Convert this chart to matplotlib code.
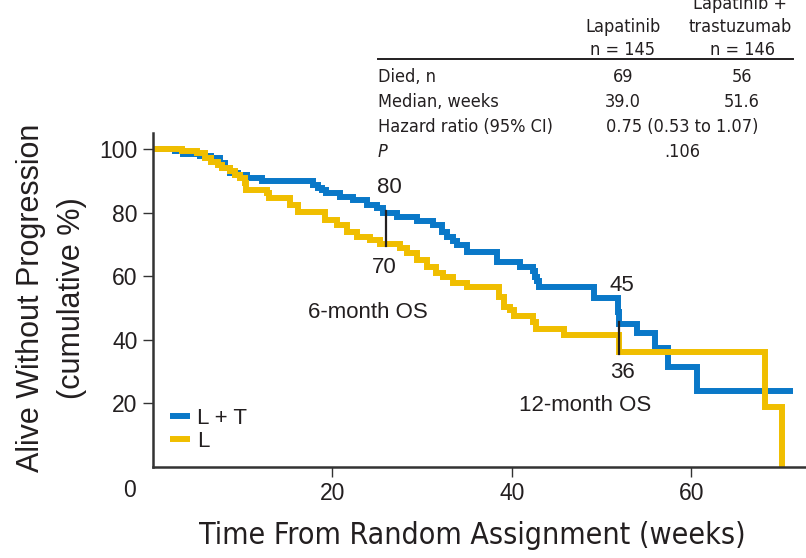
import matplotlib
matplotlib.use("Agg")
import matplotlib.pyplot as plt
from matplotlib.lines import Line2D

# Kaplan-Meier step data: progression-free survival (%) by week
lt_weeks = [0, 2.4, 3.3, 5.2, 6.5, 7.5, 8.0, 8.6, 9.5, 10.5,
            12.2, 17.8, 18.4, 18.8, 19.3, 20.8, 22.3, 23.9, 25.0, 25.6,
            27.2, 29.4, 31.2, 32.2, 32.8, 33.4, 33.9, 35.0, 38.3, 40.9,
            42.4, 42.6, 42.8, 43.0, 49.2, 51.8, 52.0, 54.0, 56.0, 57.4,
            60.6, 71.3]
lt_pct = [100, 99.3, 98.5, 97.8, 97.0, 95.5, 94.0, 92.5, 91.8, 91.0,
          89.8, 88.8, 87.8, 87.0, 86.0, 85.0, 84.0, 82.5, 81.5, 80.0,
          78.6, 77.3, 76.0, 74.0, 72.3, 71.0, 69.8, 67.6, 64.5, 63.0,
          61.5, 59.7, 58.5, 56.6, 53.0, 48.7, 45.0, 42.0, 37.5, 31.4,
          24.0, 24.0]

l_weeks = [0, 3.2, 4.9, 5.8, 6.5, 7.3, 7.7, 8.6, 9.1, 9.7,
           10.3, 10.4, 12.7, 12.9, 15.3, 16.2, 19.2, 20.5, 21.6, 22.7,
           24.2, 25.3, 27.5, 28.3, 29.4, 30.5, 31.5, 32.3, 33.4, 35.0,
           38.6, 39.1, 39.8, 40.2, 42.4, 42.7, 45.8, 51.9, 68.2, 70.1]
l_pct = [100, 99.3, 98.6, 97.0, 96.0, 95.0, 94.0, 92.9, 91.8, 91.0,
         89.2, 87.2, 86.0, 84.5, 82.5, 80.3, 77.7, 76.0, 74.0, 72.4,
         71.4, 70.0, 68.8, 67.3, 65.1, 63.0, 61.0, 59.7, 57.9, 56.6,
         53.6, 50.4, 49.2, 47.6, 45.5, 43.3, 41.5, 36.0, 19.0, 0.0]

series_labels = ["L + T", "L"]

# Landmark overall-survival estimates
os_weeks = [26, 52]
os_lt = [80, 45]
os_l = [70, 36]
os_titles = ["6-month OS", "12-month OS"]

# Summary table
table_cols = [["Lapatinib", "n = 145"], ["Lapatinib +", "trastuzumab", "n = 146"]]
table_rows = ["Died, n", "Median, weeks", "Hazard ratio (95% CI)", "P"]
died = ["69", "56"]
median = ["39.0", "51.6"]
hazard = "0.75 (0.53 to 1.07)"
p_value = ".106"

x_ticks = [20, 40, 60]
y_ticks = [20, 40, 60, 80, 100]

BLUE = "#0a78c8"
YELLOW = "#f0be00"
INK = "#231f20"
NARROW = ["Liberation Sans Narrow", "DejaVu Sans"]
REG = ["Liberation Sans", "DejaVu Sans"]

W, H = 806, 558
fig = plt.figure(figsize=(W / 100, H / 100), dpi=100)


def fx(px):
    return px / W


def fy(py):
    return 1 - py / H


ax = fig.add_axes([fx(153), fy(467), (W - 153) / W, (467 - 133) / H])
ax.set_xlim(0, 72.8)
ax.set_ylim(0, 105)

ax.step(lt_weeks, lt_pct, where="post", color=BLUE, lw=4.3,
        solid_joinstyle="miter", solid_capstyle="butt", label=series_labels[0])
ax.step(l_weeks, l_pct, where="post", color=YELLOW, lw=4.3,
        solid_joinstyle="miter", solid_capstyle="butt", label=series_labels[1])

# landmark markers and labels
for wk, hi, lo in zip(os_weeks, os_lt, os_l):
    ax.plot([wk, wk], [lo - 0.6, hi + 0.6], color=INK, lw=1.6)
ann = dict(fontsize=16, color=INK, family=REG, ha="center", va="center")
ax.text(26.4, 88, f"{os_lt[0]}", **ann)
ax.text(25.8, 62.6, f"{os_l[0]}", **ann)
ax.text(24.0, 48.7, os_titles[0], **ann)
ax.text(52.3, 57.2, f"{os_lt[1]}", **ann)
ax.text(52.3, 29.6, f"{os_l[1]}", **ann)
ax.text(48.2, 19.2, os_titles[1], **ann)

for s in ("top", "right"):
    ax.spines[s].set_visible(False)
for s in ("left", "bottom"):
    ax.spines[s].set_linewidth(1.8)
    ax.spines[s].set_color("#333333")

ax.set_xticks(x_ticks)
ax.set_yticks(y_ticks)
ax.tick_params(direction="out", length=7, width=1, color="#333333",
               labelsize=16.5, labelcolor=INK, pad=4)
for lab in ax.get_xticklabels() + ax.get_yticklabels():
    lab.set_family(REG)
ax.text(-2.6, -7.4, "0", fontsize=16.5, color=INK, family=REG,
        ha="center", va="center", clip_on=False)

leg = ax.legend(loc="upper left", bbox_to_anchor=(fx(170), fy(408)),
                bbox_transform=fig.transFigure, frameon=False,
                prop={"family": REG, "size": 16}, handlelength=0.9,
                handletextpad=0.3, labelspacing=0.1, borderpad=0,
                borderaxespad=0)
for t in leg.get_texts():
    t.set_color(INK)

# axis titles
fig.text(fx(472), fy(535), "Time From Random Assignment (weeks)",
         fontsize=21.7, color=INK, family=NARROW, stretch="condensed",
         ha="center", va="center")
fig.text(fx(31), fy(298), "Alive Without Progression", rotation=90,
         fontsize=22, color=INK, family=REG, ha="center", va="center")
fig.text(fx(72), fy(298), "(cumulative %)", rotation=90,
         fontsize=22, color=INK, family=REG, ha="center", va="center")

# summary table
tab = dict(fontsize=13, color=INK, family=NARROW, stretch="condensed",
           va="center")
fig.text(fx(623), fy(27), table_cols[0][0], ha="center", **tab)
fig.text(fx(623), fy(50), table_cols[0][1], ha="center", **tab)
fig.text(fx(740), fy(4), table_cols[1][0], ha="center", **tab)
fig.text(fx(740), fy(27), table_cols[1][1], ha="center", **tab)
fig.text(fx(742), fy(50), table_cols[1][2], ha="center", **tab)
fig.add_artist(Line2D([fx(378), fx(793)], [fy(59), fy(59)],
                      color=INK, lw=1.4, transform=fig.transFigure))
row_y = [77, 102, 127, 152]
for lab, yy in zip(table_rows, row_y):
    style = "italic" if lab == "P" else "normal"
    fig.text(fx(378), fy(yy), lab, ha="left", style=style, **tab)
fig.text(fx(623), fy(row_y[0]), died[0], ha="center", **tab)
fig.text(fx(742), fy(row_y[0]), died[1], ha="center", **tab)
fig.text(fx(623), fy(row_y[1]), median[0], ha="center", **tab)
fig.text(fx(742), fy(row_y[1]), median[1], ha="center", **tab)
fig.text(fx(682), fy(row_y[2]), hazard, ha="center", **tab)
fig.text(fx(682), fy(row_y[3]), p_value, ha="center", **tab)

fig.savefig("out.png", dpi=100)
